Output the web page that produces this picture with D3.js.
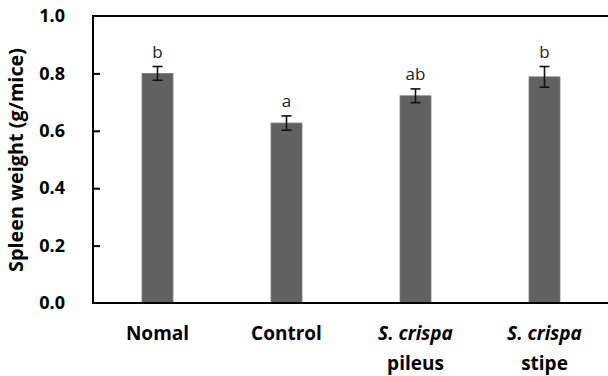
<!DOCTYPE html>
<html><head><meta charset="utf-8">
<script src="https://cdn.jsdelivr.net/npm/d3@7"></script>
<style>
html,body{margin:0;padding:0;background:#fff;}
svg{display:block;font-family:"Open Sans","Noto Sans",sans-serif;}
</style></head>
<body><svg id="c" width="608" height="376"></svg>
<script>
const categories = ["Nomal", "Control", "S. crispa pileus", "S. crispa stipe"];
const labelLine1 = ["Nomal", "Control", "S. crispa", "S. crispa"];
const labelLine2 = ["", "", "pileus", "stipe"];
const labelItalic = [false, false, true, true];
const values = [0.80, 0.627, 0.722, 0.788];
const errors = [0.024, 0.025, 0.024, 0.036];
const sigLetters = ["b", "a", "ab", "b"];
const yTicks = [0.0, 0.2, 0.4, 0.6, 0.8, 1.0];

const svg = d3.select("#c");
const L = 93, T = 16, R = 609, B = 303;

const x = d3.scaleBand().domain(categories).range([L, R]).paddingInner(0.76).paddingOuter(0.38);
const y = d3.scaleLinear().domain([0, 1]).range([B, T]);

// bars
svg.selectAll("rect.bar").data(values).join("rect")
  .attr("class","bar")
  .attr("x",(d,i)=>x(categories[i]))
  .attr("width",x.bandwidth())
  .attr("y",d=>y(d))
  .attr("height",d=>B-y(d))
  .attr("fill","#616161")
  .attr("stroke","#7a7a7a").attr("stroke-width",0.8);

// error bars
const eg = svg.append("g").attr("stroke","#111").attr("stroke-width",1.6);
values.forEach((v,i)=>{
  const cx = x(categories[i]) + x.bandwidth()/2;
  eg.append("line").attr("x1",cx).attr("x2",cx).attr("y1",y(v+errors[i])).attr("y2",y(v-errors[i]));
  eg.append("line").attr("x1",cx-5).attr("x2",cx+5).attr("y1",y(v+errors[i])).attr("y2",y(v+errors[i]));
  eg.append("line").attr("x1",cx-5).attr("x2",cx+5).attr("y1",y(v-errors[i])).attr("y2",y(v-errors[i]));
});

// significance letters
svg.selectAll("text.sig").data(sigLetters).join("text")
  .attr("class","sig")
  .attr("x",(d,i)=>x(categories[i]) + x.bandwidth()/2)
  .attr("y",(d,i)=>y(values[i]+errors[i]) - 8.5)
  .attr("text-anchor","middle")
  .attr("font-size",17)
  .attr("fill","#222")
  .text(d=>d);

// y axis
const yAxis = d3.axisLeft(y).tickValues(yTicks).tickFormat(d3.format(".1f")).tickSize(-7).tickSizeOuter(0).tickPadding(28);
const ga = svg.append("g").attr("transform",`translate(${L},0)`).call(yAxis);
ga.select(".domain").remove();
ga.selectAll(".tick line").attr("stroke","#000").attr("stroke-width",2)
  .filter(d=>d===0||d===1).remove();
ga.selectAll(".tick text").attr("font-size",18).attr("font-weight","bold").attr("fill","#000")
  .attr("font-family","'Open Sans','Noto Sans',sans-serif");

// frame
svg.append("path").attr("d",`M${R},${T}H${L}V${B}H${R}`).attr("fill","none").attr("stroke","#000").attr("stroke-width",2);

// x labels
const xl = svg.append("g").attr("font-size",19).attr("font-weight","bold").attr("text-anchor","middle").attr("fill","#000");
categories.forEach((c,i)=>{
  const cx = x(c) + x.bandwidth()/2;
  xl.append("text").attr("x",cx).attr("y",340).attr("font-style",labelItalic[i]?"italic":"normal").text(labelLine1[i]);
  if(labelLine2[i]) xl.append("text").attr("x",cx).attr("y",370).text(labelLine2[i]);
});

// y title
svg.append("text").attr("transform","translate(23,160) rotate(-90)")
  .attr("text-anchor","middle").attr("font-size",19).attr("font-weight","bold").attr("fill","#000")
  .attr("textLength",224).attr("lengthAdjust","spacingAndGlyphs")
  .text("Spleen weight (g/mice)");
</script></body></html>
